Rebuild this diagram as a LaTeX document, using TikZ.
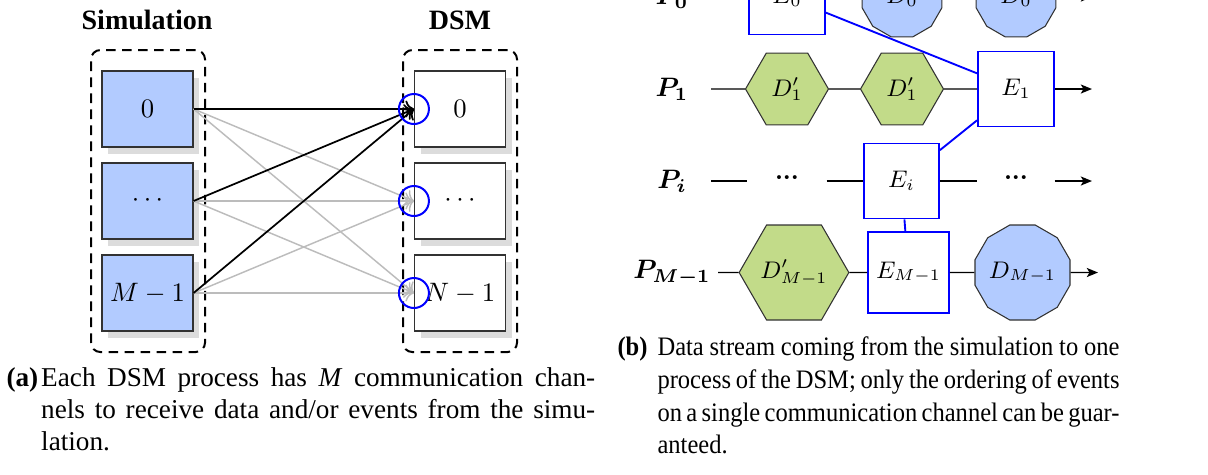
\documentclass[tikz,border=0pt]{standalone}
\usepackage{fontspec}
\setmainfont{Liberation Serif}
\newfontfamily\narrowserif[FakeStretch=0.92]{Liberation Serif}
\usepackage{bm}
\usetikzlibrary{shapes.geometric,arrows.meta,shadows}

\definecolor{simblue}{RGB}{178,203,255}
\definecolor{hexgreen}{RGB}{194,219,137}
\definecolor{shadowgray}{RGB}{220,220,220}
\definecolor{wiregray}{RGB}{188,188,188}
\definecolor{edgegray}{RGB}{50,50,50}

\begin{document}
\begin{tikzpicture}[x=0.375pt, y=-0.375pt,
  header/.style={anchor=base, inner sep=0pt, font=\fontsize{10.5}{12}\bfseries\selectfont},
  procbox/.style={draw=edgegray, line width=0.45pt, minimum width=34.1pt,
    minimum height=28.5pt, inner sep=0pt, font=\fontsize{10}{12}\selectfont,
    drop shadow={shadow xshift=2.3pt, shadow yshift=-2.6pt, fill=shadowgray, opacity=1}},
  simbox/.style={procbox, fill=simblue},
  dsmbox/.style={procbox, fill=white},
  groupbox/.style={draw, line width=0.75pt, dash pattern=on 3.6pt off 2.4pt,
    rounded corners=3.5pt, minimum width=42.75pt, minimum height=113.25pt, inner sep=0pt},
  portring/.style={circle, draw=blue, line width=0.75pt, minimum size=11.25pt, inner sep=0pt},
  mainwire/.style={line width=0.65pt, -{To[length=3.2pt,width=6.4pt]}},
  sidewire/.style={draw=wiregray, line width=0.55pt, -{To[length=3.2pt,width=6.4pt]}},
  plabel/.style={inner sep=0pt, font=\fontsize{10}{12}\selectfont},
  ebox/.style={draw=blue, line width=0.7pt, fill=white, inner sep=0pt,
    font=\fontsize{9}{11}\selectfont},
  dgon/.style={regular polygon, regular polygon sides=12, draw=edgegray, line width=0.4pt,
    fill=simblue, inner sep=0pt, font=\fontsize{9}{11}\selectfont},
  hexa/.style={regular polygon, regular polygon sides=6, draw=edgegray, line width=0.4pt,
    fill=hexgreen, inner sep=0pt, font=\fontsize{9}{11}\selectfont},
  dotsnode/.style={inner sep=0pt, font=\fontsize{9}{11}\bfseries\selectfont},
  rowline/.style={line width=0.55pt},
  rowarrow/.style={line width=0.55pt, -{Stealth[length=4.2pt,width=3.4pt,inset=1pt]}},
  elink/.style={draw=blue, line width=0.7pt},
  capline/.style={anchor=base west, inner sep=0pt, font=\fontsize{10.2}{12}\selectfont},
  caplineb/.style={anchor=base west, inner sep=0pt, font=\fontsize{10}{12}\narrowserif},
]
\useasboundingbox (0,0) rectangle (1208,474);
\clip (0,0) rectangle (1208,474);

% ---------- (a) simulation processes and DSM processes ----------
\node[header] (hsim) at (147,29) {Simulation};
\node[header] (hdsm) at (460,29) {DSM};

\node[groupbox] (gsim) at (148,201) {};
\node[groupbox] (gdsm) at (460,201) {};

\node[simbox] (s0) at (147.5,109) {$0$};
\node[simbox] (s1) at (147.5,201) {$\cdots$};
\node[simbox] (s2) at (147.5,293) {$M-1$};

\node[dsmbox] (d0) at (460,109) {$0$};
\node[dsmbox] (d1) at (460,201) {$\cdots$};
\node[dsmbox] (d2) at (460,293) {$N-1$};

% channels to the other DSM processes
\foreach \s in {s0,s1,s2}{
  \draw[sidewire] (\s.east) -- (d1.west);
  \draw[sidewire] (\s.east) -- (d2.west);
}
% channels into DSM process 0
\foreach \s in {s0,s1,s2}{
  \draw[mainwire] (\s.east) -- (d0.west);
}

\node[portring] (c0) at (d0.west) {};
\node[portring] (c1) at (d1.west) {};
\node[portring] (c2) at (d2.west) {};

% ---------- (b) data stream into one DSM process ----------
\node[plabel] (lp0) at (672,-3) {$\bm{P_0}$};
\node[plabel] (lp1) at (672,89) {$\bm{P_1}$};
\node[plabel] (lpi) at (672,181) {$\bm{P_i}$};
\node[plabel] (lpm) at (672,272.5) {$\bm{P_{M-1}}$};

% row P_0
\coordinate (p0s) at (711,-3);
\coordinate (p0e) at (1092,-3);
\node[ebox, minimum width=28.5pt, minimum height=28.1pt] (e0) at (787,-3) {$E_0$};
\node[dgon, minimum size=31pt] (d01) at (902,-3) {$D_0$};
\node[dgon, minimum size=31pt] (d02) at (1016,-3) {$D_0$};
\draw[rowline] (p0s) -- (e0) -- (d01) -- (d02);
\draw[rowarrow] (d02) -- (p0e);

% row P_1
\coordinate (p1s) at (711,89);
\coordinate (p1e) at (1092,89);
\node[hexa, minimum size=31.1pt] (d11) at (787,89) {$D'_1$};
\node[hexa, minimum size=31.1pt] (d12) at (902,89) {$D'_1$};
\node[ebox, minimum width=28.5pt, minimum height=28.1pt] (e1) at (1016,89) {$E_1$};
\draw[rowline] (p1s) -- (d11) -- (d12) -- (e1);
\draw[rowarrow] (e1) -- (p1e);

% row P_i
\coordinate (pis) at (711,181);
\coordinate (pie) at (1092,181);
\node[dotsnode, minimum width=29.25pt] (dots1) at (787,181) {···};
\node[ebox, minimum width=28.1pt, minimum height=28.1pt] (ei) at (901.5,181) {$E_i$};
\node[dotsnode, minimum width=28.5pt] (dots2) at (1016,181) {···};
\draw[rowline] (pis) -- (dots1);
\draw[rowline] (dots1) -- (ei) -- (dots2);
\draw[rowarrow] (dots2) -- (pie);

% row P_{M-1}
\coordinate (pms) at (718,272.5);
\coordinate (pme) at (1098,272.5);
\node[hexa, minimum size=37.5pt] (dm1) at (794,272.5) {$D'_{M-1}$};
\node[ebox, minimum width=30.4pt, minimum height=30.4pt] (em) at (908.5,272.5) {$E_{M-1}$};
\node[dgon, minimum size=33.75pt] (dm2) at (1022.5,272.5) {$D_{M-1}$};
\draw[rowline] (pms) -- (dm1) -- (em) -- (dm2);
\draw[rowarrow] (dm2) -- (pme);

% ordering of events across the processes
\draw[elink] (e0) -- (e1);
\draw[elink] (e1) -- (ei);
\draw[elink] (ei) -- (em);

% ---------- captions ----------
\node[capline] (capa) at (6,386) {\textbf{(a)}};
\node[capline] (capa1) at (40.7,386) {\makebox[207.75pt][s]{Each DSM process has \textit{M} communication chan-}};
\node[capline] (capa2) at (40.7,418) {\makebox[207.75pt][s]{nels to receive data and/or events from the simu-}};
\node[capline] (capa3) at (40.7,450) {lation.};

\node[caplineb] (capb) at (617,355) {\textbf{(b)}};
\node[caplineb] (capb1) at (657,355) {\makebox[173.25pt][s]{Data stream coming from the simulation to one}};
\node[caplineb] (capb2) at (657,388) {\makebox[173.25pt][s]{process of the DSM; only the ordering of events}};
\node[caplineb] (capb3) at (657,421) {\makebox[173.25pt][s]{on a single communication channel can be guar-}};
\node[caplineb] (capb4) at (657,453) {anteed.};
\end{tikzpicture}
\end{document}
